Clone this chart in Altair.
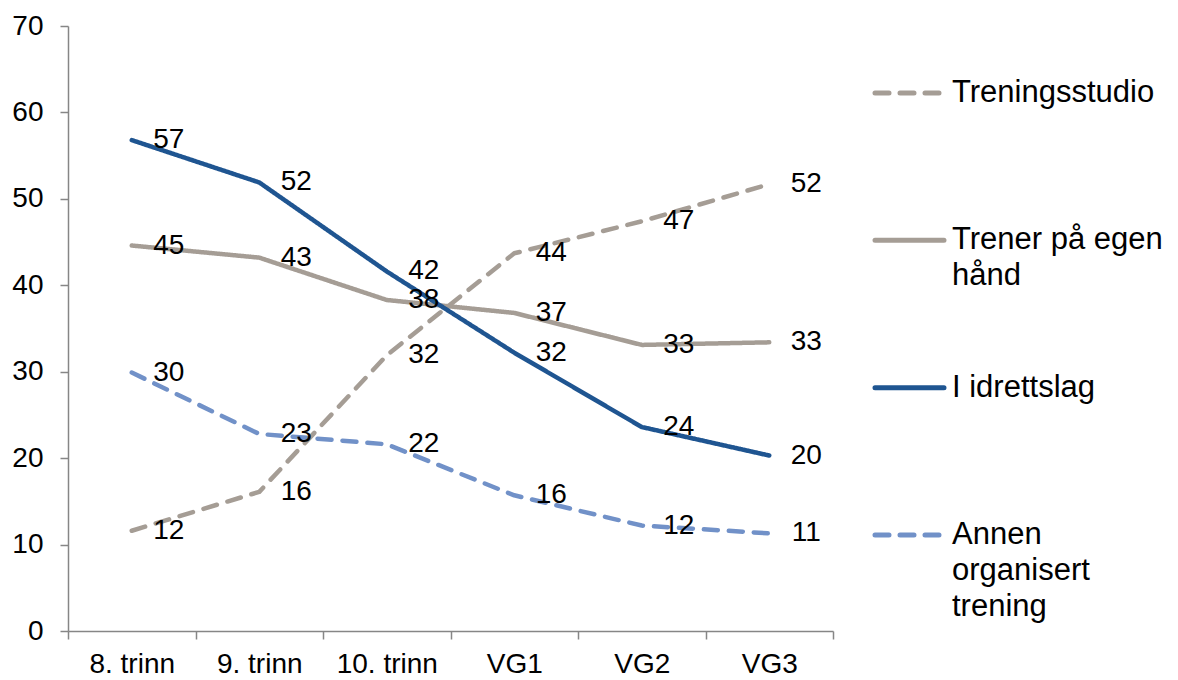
import altair as alt
import pandas as pd

grades = ["8. trinn", "9. trinn", "10. trinn", "VG1", "VG2", "VG3"]
series = ["Treningsstudio", "Trener på egen hånd", "I idrettslag", "Annen organisert trening"]
legend_labels = ["Treningsstudio", "Trener på egen\nhånd", "I idrettslag", "Annen\norganisert\ntrening"]

treningsstudio = [11.6, 16.1, 31.9, 43.7, 47.4, 51.7]
trener = [44.6, 43.2, 38.3, 36.8, 33.1, 33.4]
idrettslag = [56.8, 51.9, 41.6, 32.2, 23.6, 20.3]
annen = [29.9, 22.8, 21.6, 15.7, 12.2, 11.3]

colors = ["#A59D95", "#A59D95", "#1F5591", "#7191C8"]
dashes = [[14, 11], [1, 0], [1, 0], [14, 11]]

FONT = "Liberation Sans"
AXIS_GREY = "#868686"

rows = []
for name, vals in zip(series, [treningsstudio, trener, idrettslag, annen]):
    for g, v in zip(grades, vals):
        rows.append({"grade": g, "series": name, "value": v})
df = pd.DataFrame(rows)

leg = pd.DataFrame({"series": series, "label": legend_labels, "idx": list(range(len(series)))})

color_scale = alt.Scale(domain=series, range=colors)
dash_scale = alt.Scale(domain=series, range=dashes)

x_enc = alt.X(
    "grade:N",
    sort=grades,
    bandPosition=0.5,
    scale=alt.Scale(type="band", paddingInner=0, paddingOuter=0),
    axis=alt.Axis(
        title=None, labelAngle=0, tickBand="extent", tickSize=8, labelPadding=11,
        labelFontSize=28, labelFont=FONT, labelColor="black",
        domainColor=AXIS_GREY, tickColor=AXIS_GREY, domainWidth=1.5, tickWidth=1.5,
        grid=False,
    ),
)
y_enc = alt.Y(
    "value:Q",
    scale=alt.Scale(domain=[0, 70], nice=False),
    axis=alt.Axis(
        title=None, values=list(range(0, 71, 10)), grid=False, tickSize=8, labelPadding=17,
        labelFontSize=28, labelFont=FONT, labelColor="black",
        domainColor=AXIS_GREY, tickColor=AXIS_GREY, domainWidth=1.5, tickWidth=1.5,
    ),
)

base = alt.Chart(df)
lines = base.mark_line(strokeWidth=4.5, strokeCap="round", strokeJoin="round").encode(
    x=x_enc,
    y=y_enc,
    color=alt.Color("series:N", scale=color_scale, legend=None),
    strokeDash=alt.StrokeDash("series:N", scale=dash_scale, legend=None),
    detail="series:N",
)
labels = base.mark_text(
    dx=37, align="center", baseline="middle", fontSize=28, font=FONT, color="black"
).encode(
    x=x_enc,
    y=y_enc,
    text=alt.Text("value:Q", format=".0f"),
)
main = alt.layer(lines, labels)

leg_y = alt.Y("idx:Q", scale=alt.Scale(domain=[-0.455, 3.652], reverse=True, nice=False, zero=False), axis=None)
leg_lines = alt.Chart(leg).mark_rule(strokeWidth=5, strokeCap="round").encode(
    x=alt.value(807),
    x2=alt.value(876),
    y=leg_y,
    color=alt.Color("series:N", scale=color_scale, legend=None),
    strokeDash=alt.StrokeDash("series:N", scale=dash_scale, legend=None),
)
leg_text = alt.Chart(leg).mark_text(
    align="left", baseline="middle", fontSize=31, font=FONT, color="black",
    lineBreak="\n", lineHeight=36,
).encode(
    x=alt.value(884),
    y=leg_y,
    text="label:N",
)
legend = alt.layer(leg_lines, leg_text)

chart = (
    alt.layer(main, legend)
    .resolve_scale(y="independent")
    .properties(
        width=765,
        height=605,
        autosize=alt.AutoSizeParams(type="none"),
        padding={"left": 60, "top": 18, "right": 337, "bottom": 50},
    )
    .configure_view(stroke=None)
)

chart.save("out.html", embed_options={"renderer": "svg", "actions": False})
